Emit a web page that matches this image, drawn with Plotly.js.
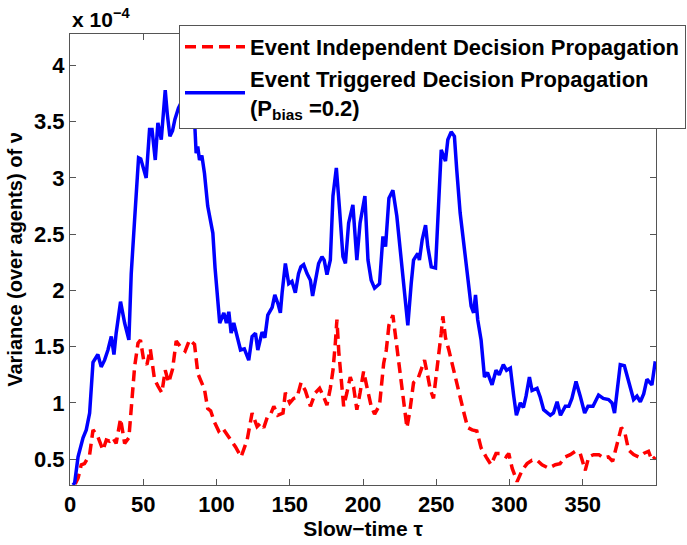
<!DOCTYPE html>
<html>
<head>
<meta charset="utf-8">
<script src="https://cdn.plot.ly/plotly-3.0.1.min.js"></script>
<style>
  html, body { margin: 0; padding: 0; background: #fff; }
  #chart { width: 687px; height: 545px; }
</style>
</head>
<body>
<div id="chart"></div>
<script>
// values are in units of 1e-4 (the axis carries the "x 10^-4" multiplier)
const triggeredTau = [2, 3.2, 5.5, 8.9, 11.1, 13.4, 15.7, 19, 21.3, 23.6, 25.9, 28.2, 30, 31.5, 34.5, 37.3, 40.2, 41.8, 44.1, 46.8,
  48.3, 52, 54.3, 56, 58.2, 60, 62.3, 65, 66.4, 68.2, 70, 71.6, 74, 77, 80, 83, 85, 86.1, 87.2, 88.4,
  90, 91.8, 94, 97.5, 99, 100.4, 102.2, 105, 106.8, 108.4, 110, 111.8, 114, 116.4, 119, 122, 124.3, 126.6, 128.2, 131.1,
  133, 135, 138, 139.8, 142, 143.6, 144.8, 147, 149.3, 151.5, 153.8, 156, 157.6, 159.5, 161.8, 164.1, 165.6, 167.5, 169.7, 172,
  173.5, 175.4, 177.7, 179.5, 181.8, 184, 186.3, 188, 190.2, 193.1, 195.8, 198, 201.3, 203.4, 205.6, 207.9, 211.3, 213.6, 215.4, 217.7,
  220.4, 223.1, 226.1, 228.4, 230.6, 232.9, 234.5, 237.4, 238.5, 240.4, 242.7, 244.2, 246.6, 249.5, 251.1, 253.4, 256.3, 257.9, 260.2, 262.4,
  264, 266.3, 269.3, 271.5, 273.8, 275.5, 276.8, 278.3, 280.6, 282.9, 285, 288.1, 290.8, 293, 295.8, 298, 300.6, 302.9, 304.7, 307.4,
  309.5, 311.3, 313.6, 315.4, 318.8, 321, 323.3, 327.9, 330, 332.5, 334.8, 338.1, 340.5, 342.6, 345.4, 348.3, 351.3, 353.6, 357, 360.8,
  364, 367.6, 370, 371.7, 375.6, 378.4, 381.3, 384.7, 387, 389.3, 391.6, 393.8, 397.2, 399.5];
const triggeredVar = [0.27, 0.29, 0.52, 0.69, 0.76, 0.91, 1.36, 1.43, 1.32, 1.38, 1.47, 1.59, 1.43, 1.62, 1.90, 1.71, 1.56, 2.15, 2.63, 3.18,
  3.17, 3.00, 3.43, 3.43, 3.16, 3.49, 3.34, 3.78, 3.57, 3.37, 3.42, 3.52, 3.62, 3.70, 3.66, 3.60, 3.52, 3.22, 3.28, 3.16,
  3.20, 3.04, 2.75, 2.51, 2.20, 1.98, 1.71, 1.80, 1.71, 1.81, 1.62, 1.71, 1.59, 1.47, 1.48, 1.38, 1.59, 1.62, 1.47, 1.63,
  1.58, 1.78, 1.85, 1.96, 1.88, 1.80, 1.98, 2.24, 2.06, 2.08, 1.98, 2.15, 2.21, 2.23, 2.15, 2.09, 1.95, 2.07, 2.24, 2.30,
  2.27, 2.14, 2.27, 2.84, 3.09, 2.72, 2.30, 2.24, 2.60, 2.76, 2.27, 2.60, 2.84, 2.27, 2.09, 2.02, 2.06, 2.48, 2.39, 2.82,
  2.89, 2.66, 2.27, 1.98, 1.69, 2.06, 2.27, 2.33, 2.27, 2.45, 2.58, 2.39, 2.21, 2.20, 2.63, 3.25, 3.15, 3.34, 3.41, 3.37,
  3.07, 2.69, 2.36, 2.12, 1.86, 1.80, 1.96, 1.74, 1.56, 1.23, 1.27, 1.16, 1.29, 1.25, 1.34, 1.29, 1.31, 1.06, 0.89, 1.00,
  0.96, 1.06, 1.23, 1.11, 1.13, 1.05, 0.94, 0.89, 0.91, 1.01, 0.89, 0.97, 0.97, 1.04, 1.19, 1.06, 0.91, 0.97, 0.97, 1.07,
  1.04, 1.03, 1.00, 0.91, 1.34, 1.33, 1.18, 1.03, 1.06, 1.01, 1.08, 1.21, 1.16, 1.37];

const independentTau = [3.5, 5.5, 7.7, 9.9, 13.4, 15.7, 19, 22.5, 24.8, 27, 29.3, 31.5, 34.5, 37.3, 40.2, 41.8, 44.1, 46.4, 48.1, 50.4,
  52.5, 54.8, 57.7, 60, 62.7, 65, 67.3, 70, 72.5, 75.9, 78.6, 81.6, 85, 87.3, 89.5, 91.8, 94, 96, 98.6, 101.5,
  104, 107.2, 110, 112.9, 116.8, 120.9, 124.3, 127.7, 130, 132.3, 134.6, 137, 139.1, 141.8, 145.4, 147, 150, 152.7, 155, 157.7,
  160.6, 164.1, 167.5, 170.4, 173, 175.4, 177.7, 179.5, 181.1, 182.2, 183.5, 185.2, 186.8, 189, 191.3, 193.6, 195.8, 198, 200.4, 202.7,
  205.6, 207.9, 211.3, 212.5, 214.1, 215.9, 217.7, 220.4, 222.2, 223.9, 225.5, 227.8, 230, 231.9, 234.5, 237.4, 239.7, 242, 244.2, 245.9,
  248.1, 251.1, 253.4, 254.5, 256.3, 258.6, 261.3, 264, 266.3, 269.3, 271.5, 274.5, 277.7, 280.6, 284, 287.4, 290.8, 294, 297.7, 299.5,
  301.8, 305.2, 308.6, 312, 315.4, 318.8, 322.2, 326.7, 331.3, 334.5, 338.1, 341.5, 344.9, 348.3, 351.7, 354.1, 357.4, 361, 364.2, 367.5,
  370.4, 373.3, 376.3, 378.5, 381.3, 384.7, 388.1, 391.5, 394.9, 397.2, 399.5];
const independentVar = [0.28, 0.33, 0.45, 0.46, 0.54, 0.76, 0.70, 0.58, 0.67, 0.66, 0.69, 0.64, 0.86, 0.64, 0.69, 0.97, 1.32, 1.53, 1.56, 1.37,
  1.34, 1.48, 1.21, 1.15, 1.09, 1.29, 1.18, 1.30, 1.55, 1.49, 1.46, 1.56, 1.52, 1.26, 1.20, 1.12, 0.95, 0.93, 0.83, 0.75,
  0.78, 0.72, 0.67, 0.61, 0.52, 0.67, 0.91, 0.79, 0.82, 0.78, 0.87, 0.90, 0.97, 0.89, 0.91, 1.09, 1.00, 1.04, 1.05, 1.18,
  1.11, 0.97, 1.09, 1.13, 1.06, 0.98, 1.13, 1.29, 1.53, 1.74, 1.45, 1.21, 0.97, 1.09, 1.23, 1.14, 0.94, 1.09, 1.28, 1.14,
  0.97, 0.90, 0.98, 1.14, 1.35, 1.47, 1.69, 1.78, 1.59, 1.38, 1.21, 0.97, 0.78, 0.92, 1.18, 1.21, 1.29, 1.38, 1.24, 1.12,
  1.04, 1.35, 1.62, 1.77, 1.58, 1.47, 1.32, 1.18, 1.03, 0.89, 0.78, 0.76, 0.75, 0.60, 0.52, 0.45, 0.55, 0.55, 0.52, 0.55,
  0.42, 0.30, 0.40, 0.46, 0.49, 0.49, 0.45, 0.42, 0.45, 0.46, 0.52, 0.54, 0.57, 0.55, 0.40, 0.52, 0.54, 0.54, 0.51, 0.52,
  0.48, 0.64, 0.78, 0.75, 0.58, 0.54, 0.52, 0.55, 0.57, 0.49, 0.52];

const xTicks = [0, 50, 100, 150, 200, 250, 300, 350];
const yTicks = [0.5, 1, 1.5, 2, 2.5, 3, 3.5, 4];
const yTickLabels = ['0.5', '1', '1.5', '2', '2.5', '3', '3.5', '4'];

const FONT = 'Liberation Sans, Arial, Helvetica, sans-serif';

const independent = {
    x: independentTau,
    y: independentVar,
    mode: 'lines',
    type: 'scatter',
    name: 'Event Independent Decision Propagation',
    line: { color: '#ff0000', width: 3.5, dash: '11px,6px' }
};

const triggered = {
    x: triggeredTau,
    y: triggeredVar,
    mode: 'lines',
    type: 'scatter',
    name: 'Event Triggered Decision Propagation<br>(P<sub>bias</sub> =0.2)',
    line: { color: '#0000ff', width: 3.5 }
};

const axisStyle = {
    showline: true,
    linecolor: '#555',
    linewidth: 1,
    mirror: 'ticks',
    ticks: 'inside',
    ticklen: 6,
    tickcolor: '#555',
    showgrid: false,
    zeroline: false,
    tickfont: { family: FONT, size: 22, weight: 'bold', color: '#000' }
};

const layout = {
    width: 687,
    height: 545,
    margin: { l: 70, r: 31, t: 34, b: 60, autoexpand: false },
    paper_bgcolor: '#fff',
    plot_bgcolor: '#fff',
    font: { family: FONT, weight: 'bold', color: '#000' },
    xaxis: Object.assign({}, axisStyle, {
        range: [0, 400],
        tickvals: xTicks,
        title: { text: 'Slow\u2212time \u03c4', standoff: 4, font: { family: FONT, size: 21, weight: 'bold', color: '#000' } }
    }),
    yaxis: Object.assign({}, axisStyle, {
        range: [0.27, 4.28],
        tickvals: yTicks,
        ticktext: yTickLabels,
        title: { text: 'Variance (over agents) of \u03bd', standoff: 6, font: { family: FONT, size: 20, weight: 'bold', color: '#000' } }
    }),
    legend: {
        x: 1.0512,
        xanchor: 'right',
        y: 1.02,
        yanchor: 'top',
        bgcolor: '#fff',
        bordercolor: '#555',
        borderwidth: 1,
        itemwidth: 60,
        tracegroupgap: 0,
        font: { family: FONT, size: 22, weight: 'bold', color: '#000' }
    },
    annotations: [{
        xref: 'paper', yref: 'paper',
        x: 0, y: 1, xanchor: 'left', yanchor: 'bottom',
        yshift: 1,
        showarrow: false,
        text: 'x 10<sup>\u22124</sup>',
        font: { family: FONT, size: 21, weight: 'bold', color: '#000' }
    }],
    showlegend: true
};

Plotly.newPlot('chart', [independent, triggered], layout, { displayModeBar: false, staticPlot: true });
</script>
</body>
</html>
